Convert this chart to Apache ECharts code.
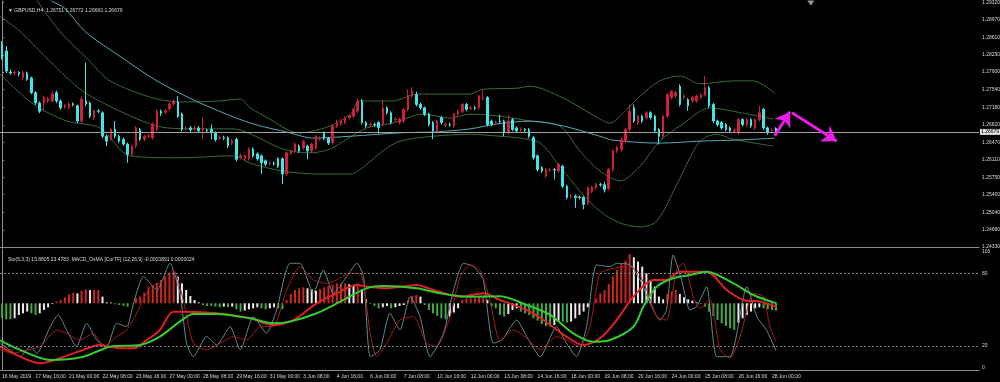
<!DOCTYPE html>
<html><head><meta charset="utf-8">
<script src="https://cdn.jsdelivr.net/npm/echarts@6/dist/echarts.min.js"></script>
<style>html,body{margin:0;padding:0;background:#000}#c{width:1000px;height:382px}</style>
</head><body><div id="c"></div>
<script>
// ---------- DATA ----------
const timeLabels = ["16 May 2019","17 May 16:00","21 May 00:00","22 May 08:00","23 May 16:00","27 May 00:00","28 May 08:00","29 May 16:00","31 May 00:00","3 Jun 08:00","4 Jun 16:00","6 Jun 00:00","7 Jun 08:00","10 Jun 16:00","12 Jun 00:00","13 Jun 08:00","14 Jun 16:00","18 Jun 00:00","19 Jun 08:00","20 Jun 16:00","24 Jun 00:00","25 Jun 08:00","26 Jun 16:00","28 Jun 00:00"];
const barsPerLabel = 8;
const priceTicks = [1.24330,1.24680,1.25040,1.25400,1.25750,1.26110,1.26470,1.26820,1.27180,1.27540,1.27900,1.28250,1.28610,1.28970,1.29320];
const stochTicks = [0,20,80,100];
const lastPrice = 1.26679;
const shiftMarkerBar = 193.3;
const titleText = "\u25BC GBPUSD,H4  1.26751 1.26772 1.26663 1.26679";
const subTitleText = "Sto(5,3,3) 15.8805 23.4783  MACD_OsMA [CurTF] (12,26,9) -0.0003891 0.0000024";

// candles: [open, close, low, high]
const candles = [
[1.2847,1.2819,1.2815,1.2853],[1.2833,1.2792,1.2788,1.2843],[1.2790,1.2788,1.2784,1.2795],[1.2788,1.2789,1.2783,1.2793],
[1.2789,1.2786,1.2781,1.2792],[1.2778,1.2789,1.2774,1.2793],[1.2788,1.2775,1.2772,1.2791],[1.2778,1.2748,1.2745,1.2781],
[1.2748,1.2727,1.2723,1.2751],[1.2727,1.2710,1.2706,1.2730],[1.2727,1.2738,1.2710,1.2742],[1.2731,1.2735,1.2727,1.2739],
[1.2731,1.2745,1.2728,1.2751],[1.2748,1.2731,1.2727,1.2752],[1.2731,1.2717,1.2713,1.2734],[1.2719,1.2721,1.2715,1.2725],
[1.2717,1.2725,1.2713,1.2729],[1.2725,1.2724,1.2720,1.2728],[1.2721,1.2690,1.2686,1.2724],[1.2690,1.2735,1.2686,1.2740],
[1.2731,1.2725,1.2720,1.2809],[1.2727,1.2700,1.2696,1.2730],[1.2697,1.2711,1.2693,1.2714],[1.2711,1.2710,1.2706,1.2714],
[1.2707,1.2659,1.2655,1.2710],[1.2659,1.2649,1.2639,1.2662],[1.2653,1.2673,1.2649,1.2676],[1.2673,1.2659,1.2655,1.2690],
[1.2659,1.2649,1.2645,1.2662],[1.2653,1.2643,1.2639,1.2656],[1.2643,1.2622,1.2605,1.2646],[1.2622,1.2639,1.2618,1.2642],
[1.2639,1.2676,1.2635,1.2680],[1.2673,1.2653,1.2649,1.2676],[1.2653,1.2659,1.2649,1.2662],[1.2659,1.2660,1.2655,1.2664],
[1.2656,1.2684,1.2652,1.2687],[1.2673,1.2710,1.2669,1.2714],[1.2710,1.2706,1.2700,1.2714],[1.2708,1.2711,1.2704,1.2715],
[1.2715,1.2725,1.2711,1.2728],[1.2725,1.2731,1.2721,1.2734],[1.2729,1.2700,1.2696,1.2741],[1.2704,1.2673,1.2669,1.2707],
[1.2675,1.2676,1.2671,1.2680],[1.2676,1.2672,1.2668,1.2680],[1.2674,1.2676,1.2670,1.2680],[1.2676,1.2670,1.2666,1.2680],
[1.2672,1.2676,1.2653,1.2697],[1.2671,1.2670,1.2666,1.2674],[1.2673,1.2666,1.2653,1.2683],[1.2666,1.2652,1.2648,1.2669],
[1.2655,1.2656,1.2651,1.2660],[1.2656,1.2655,1.2651,1.2660],[1.2656,1.2639,1.2635,1.2659],[1.2645,1.2650,1.2641,1.2653],
[1.2653,1.2612,1.2608,1.2656],[1.2616,1.2619,1.2612,1.2623],[1.2613,1.2619,1.2609,1.2622],[1.2613,1.2633,1.2609,1.2636],
[1.2633,1.2619,1.2615,1.2636],[1.2623,1.2613,1.2609,1.2626],[1.2619,1.2605,1.2582,1.2622],[1.2609,1.2602,1.2598,1.2612],
[1.2603,1.2604,1.2599,1.2608],[1.2604,1.2603,1.2599,1.2608],[1.2613,1.2598,1.2594,1.2616],[1.2613,1.2582,1.2561,1.2616],
[1.2582,1.2625,1.2578,1.2628],[1.2625,1.2629,1.2621,1.2632],[1.2629,1.2643,1.2625,1.2646],[1.2639,1.2629,1.2625,1.2642],
[1.2635,1.2649,1.2631,1.2652],[1.2639,1.2629,1.2612,1.2642],[1.2629,1.2643,1.2625,1.2646],[1.2635,1.2659,1.2631,1.2662],
[1.2654,1.2655,1.2650,1.2659],[1.2666,1.2655,1.2651,1.2669],[1.2655,1.2645,1.2641,1.2658],[1.2646,1.2680,1.2642,1.2683],
[1.2680,1.2687,1.2676,1.2693],[1.2684,1.2690,1.2680,1.2694],[1.2687,1.2697,1.2683,1.2700],[1.2697,1.2701,1.2693,1.2704],
[1.2700,1.2714,1.2696,1.2717],[1.2710,1.2731,1.2706,1.2737],[1.2731,1.2687,1.2683,1.2735],[1.2687,1.2680,1.2676,1.2690],
[1.2682,1.2683,1.2678,1.2687],[1.2683,1.2682,1.2678,1.2687],[1.2687,1.2677,1.2664,1.2690],[1.2683,1.2717,1.2679,1.2733],
[1.2717,1.2707,1.2703,1.2720],[1.2707,1.2687,1.2683,1.2710],[1.2693,1.2694,1.2689,1.2698],[1.2687,1.2694,1.2683,1.2697],
[1.2690,1.2714,1.2686,1.2717],[1.2714,1.2741,1.2710,1.2755],[1.2741,1.2751,1.2737,1.2759],[1.2744,1.2724,1.2720,1.2750],
[1.2724,1.2717,1.2713,1.2728],[1.2717,1.2704,1.2700,1.2720],[1.2704,1.2683,1.2679,1.2707],[1.2687,1.2670,1.2653,1.2690],
[1.2670,1.2690,1.2666,1.2693],[1.2697,1.2687,1.2683,1.2700],[1.2682,1.2683,1.2678,1.2687],[1.2683,1.2682,1.2678,1.2687],
[1.2680,1.2704,1.2676,1.2707],[1.2704,1.2710,1.2700,1.2714],[1.2710,1.2724,1.2706,1.2727],[1.2724,1.2714,1.2710,1.2727],
[1.2716,1.2717,1.2712,1.2721],[1.2717,1.2716,1.2712,1.2721],[1.2717,1.2741,1.2713,1.2744],[1.2737,1.2738,1.2733,1.2754],
[1.2738,1.2683,1.2679,1.2741],[1.2690,1.2683,1.2679,1.2693],[1.2686,1.2687,1.2682,1.2691],[1.2690,1.2689,1.2685,1.2703],
[1.2690,1.2666,1.2659,1.2693],[1.2666,1.2690,1.2662,1.2703],[1.2693,1.2673,1.2669,1.2696],[1.2676,1.2670,1.2666,1.2679],
[1.2672,1.2673,1.2668,1.2677],[1.2673,1.2671,1.2667,1.2675],[1.2673,1.2659,1.2655,1.2676],[1.2656,1.2615,1.2611,1.2659],
[1.2619,1.2591,1.2587,1.2622],[1.2595,1.2588,1.2584,1.2598],[1.2578,1.2591,1.2574,1.2594],[1.2590,1.2591,1.2586,1.2595],
[1.2591,1.2590,1.2571,1.2594],[1.2588,1.2602,1.2584,1.2605],[1.2598,1.2557,1.2553,1.2601],[1.2557,1.2534,1.2530,1.2560],
[1.2536,1.2537,1.2532,1.2541],[1.2537,1.2534,1.2513,1.2540],[1.2535,1.2534,1.2530,1.2538],[1.2534,1.2520,1.2510,1.2537],
[1.2523,1.2554,1.2519,1.2557],[1.2547,1.2555,1.2543,1.2558],[1.2554,1.2561,1.2550,1.2564],[1.2561,1.2560,1.2556,1.2564],
[1.2560,1.2550,1.2544,1.2566],[1.2552,1.2591,1.2548,1.2594],[1.2591,1.2629,1.2587,1.2632],[1.2629,1.2636,1.2625,1.2640],
[1.2632,1.2653,1.2628,1.2656],[1.2649,1.2673,1.2645,1.2676],[1.2673,1.2710,1.2669,1.2724],[1.2717,1.2690,1.2686,1.2724],
[1.2686,1.2700,1.2682,1.2703],[1.2700,1.2690,1.2686,1.2703],[1.2697,1.2707,1.2693,1.2710],[1.2707,1.2697,1.2693,1.2710],
[1.2700,1.2670,1.2666,1.2703],[1.2673,1.2659,1.2642,1.2676],[1.2659,1.2700,1.2655,1.2703],[1.2700,1.2744,1.2696,1.2747],
[1.2738,1.2751,1.2734,1.2754],[1.2741,1.2748,1.2737,1.2752],[1.2761,1.2724,1.2720,1.2765],[1.2738,1.2741,1.2734,1.2745],
[1.2734,1.2721,1.2711,1.2737],[1.2731,1.2738,1.2727,1.2741],[1.2731,1.2741,1.2727,1.2744],[1.2738,1.2744,1.2734,1.2747],
[1.2744,1.2758,1.2740,1.2782],[1.2758,1.2721,1.2717,1.2762],[1.2724,1.2690,1.2686,1.2727],[1.2690,1.2683,1.2679,1.2693],
[1.2687,1.2676,1.2672,1.2690],[1.2683,1.2673,1.2669,1.2686],[1.2676,1.2670,1.2666,1.2679],[1.2670,1.2671,1.2666,1.2675],
[1.2666,1.2693,1.2662,1.2696],[1.2693,1.2683,1.2679,1.2696],[1.2683,1.2693,1.2679,1.2696],[1.2693,1.2680,1.2676,1.2696],
[1.2676,1.2693,1.2672,1.2696],[1.2693,1.2707,1.2689,1.2721],[1.2714,1.2676,1.2672,1.2717],[1.2676,1.2666,1.2662,1.2679],
[1.2670,1.2671,1.2666,1.2675],[1.26751,1.26679,1.26663,1.26772]
];

// indicator lines read at sampled bars: [barIndex, value]
const maLine = [[9.1,1.2955],[11.9,1.2935],[15.0,1.2920],[19.8,1.2873],[28.2,1.2822],[37.0,1.2772],[47.3,1.2727],[59.3,1.2686],[68.8,1.2666],[74.3,1.2655],[83.2,1.2659],[95.1,1.2666],[103.9,1.2668],[111.8,1.2674],[118.3,1.2684],[126.2,1.2690],[134.1,1.2680],[142.9,1.2659],[146.0,1.2651],[157.2,1.2645],[166.8,1.2649],[174.7,1.2651],[184.7,1.2655]];
const bbUpper = [[-0.5,1.3037],[6.7,1.2955],[13.8,1.2873],[20.3,1.2818],[25.8,1.2772],[37.0,1.2735],[44.2,1.2729],[52.1,1.2731],[56.9,1.2735],[59.3,1.2717],[64.0,1.2694],[68.8,1.2670],[71.2,1.2666],[78.4,1.2680],[83.2,1.2704],[85.5,1.2731],[93.4,1.2731],[99.2,1.2745],[111.8,1.2745],[115.0,1.2755],[123.1,1.2757],[126.2,1.2761],[134.1,1.2737],[141.7,1.2700],[145.3,1.2686],[148.9,1.2710],[152.5,1.2741],[157.2,1.2772],[162.0,1.2782],[166.8,1.2766],[174.7,1.2772],[179.5,1.2772],[184.7,1.2747]];
const bbMiddle = [[-0.5,1.2904],[4.3,1.2873],[11.4,1.2812],[19.3,1.2751],[28.2,1.2710],[35.4,1.2684],[39.4,1.2676],[47.3,1.2674],[55.2,1.2674],[59.3,1.2664],[67.1,1.2633],[73.6,1.2625],[78.4,1.2633],[82.4,1.2653],[87.2,1.2676],[93.4,1.2686],[100.6,1.2704],[107.1,1.2696],[111.8,1.2704],[119.0,1.2700],[126.2,1.2690],[133.3,1.2680],[138.1,1.2629],[142.9,1.2588],[147.7,1.2568],[152.5,1.2598],[157.2,1.2649],[162.7,1.2684],[169.2,1.2717],[174.7,1.2710],[184.3,1.2694]];
const bbLower = [[-0.5,1.2786],[7.4,1.2725],[15.5,1.2690],[23.4,1.2676],[30.6,1.2619],[42.5,1.2615],[55.2,1.2619],[59.3,1.2604],[67.1,1.2588],[75.3,1.2582],[83.2,1.2582],[87.2,1.2602],[91.0,1.2629],[95.1,1.2649],[103.0,1.2659],[111.8,1.2663],[119.0,1.2659],[123.8,1.2655],[128.6,1.2645],[133.3,1.2598],[138.1,1.2547],[142.9,1.2506],[147.7,1.2482],[152.5,1.2474],[156.5,1.2486],[161.3,1.2561],[166.8,1.2649],[170.9,1.2663],[174.7,1.2653],[184.3,1.2639]];

// OsMA histogram (units of 1e-4), one per bar
const osma = [
-1.5,-1.6,-1.6,-1.5,-1.17,-1.0,-0.83,-1.0,-1.17,-1.0,
-0.67,-0.4,-0.07,0.17,0.33,0.6,0.9,1.07,1.0,1.27,
1.4,1.33,1.33,1.33,0.67,0.1,0.07,-0.1,-0.17,-0.27,
-0.33,0.03,0.5,0.67,1.07,1.6,1.83,2.07,2.33,2.67,
3.0,3.17,2.67,2.0,1.33,0.73,0.33,0.1,-0.17,-0.27,
-0.27,-0.33,-0.4,-0.33,-0.4,-0.33,-0.6,-0.83,-0.73,-0.6,
-0.5,-0.4,-0.5,-0.6,-0.5,-0.4,-0.5,-0.6,0.33,0.93,
1.33,1.5,1.6,1.5,1.4,1.27,1.4,1.6,1.73,1.87,
2.0,2.0,2.0,1.9,1.83,2.0,1.4,0.4,-0.07,-0.27,
-0.5,-0.4,-0.27,-0.5,-0.4,-0.27,-0.17,0.33,0.73,0.83,
0.67,-0.17,-0.67,-1.0,-1.27,-1.5,-1.6,-1.33,-0.93,-0.5,
0.33,0.5,0.5,0.5,0.67,0.73,0.33,-0.33,-0.5,-1.17,
-1.33,-1.07,-0.67,-0.5,-0.83,-1.0,-1.17,-1.5,-1.73,-2.07,
-2.27,-2.33,-2.17,-1.83,-1.83,-1.93,-1.83,-1.5,-1.17,-0.83,
-0.4,0.05,0.5,1.0,1.33,1.93,2.67,3.33,3.93,4.27,
4.93,4.6,4.17,3.67,3.0,2.33,1.67,0.67,0.4,0.93,
1.17,1.33,0.93,0.6,0.4,0.27,0.1,-0.07,-0.33,-0.83,
-1.27,-1.67,-2.0,-2.27,-2.5,-2.67,-1.93,-1.5,-1.17,-0.83,
-0.5,-0.4,-0.5,-0.6,-0.67,-0.73
];
const stochMain = [[-0.5,22],[1.9,16.6],[4.3,11],[6.7,19.3],[8.3,13.8],[11.5,35.8],[13.4,45.5],[15.4,33.1],[17.8,19.3],[20.2,38.6],[22.6,24.8],[25,19.3],[27.4,38.6],[29.8,35.8],[31.4,55.1],[33.8,77.2],[37,66.1],[40.1,88.2],[42.5,63.4],[44.1,22.1],[45.7,11],[48.9,27.6],[51.3,20.7],[54.5,35.8],[56.9,16.6],[60.1,44.1],[63.2,30.3],[65.6,49.6],[68.8,88.2],[71.2,88.2],[74.4,63.4],[76.8,82.7],[79.2,63.4],[82.4,77.2],[84.8,88.2],[86.4,77.2],[88,11],[90.3,16.6],[92.7,46.9],[95.1,33.1],[97.5,60.6],[99.9,44.1],[102.3,11],[105.5,30.3],[107.9,66.1],[110.3,88.2],[112.7,85.4],[115,74.4],[117.4,22.1],[119.5,25],[123,41.3],[125.4,27.6],[128.6,11],[132.5,35.8],[134.9,22.1],[137.3,11],[139.7,35.8],[142.1,86.8],[145.3,85.4],[146.9,88.2],[150.1,86.8],[152.5,74.4],[154.9,55.1],[157.2,41.3],[158.8,49.6],[160.4,95.1],[162.4,74.4],[164.4,49.6],[166,52.4],[168.4,68.9],[170.8,11],[174,11],[178,68.9],[180.4,44.1],[182.7,33.1],[185,15.9]];
const stochSignal = [[-0.5,16.6],[2.7,13.8],[5.9,16.6],[9.1,19.3],[13,33.1],[15.4,30.3],[18.6,24.8],[21.8,30.3],[24.2,19.3],[27.4,27.6],[29.8,33.1],[32.2,46.9],[35.4,68.9],[37.7,71.6],[40.9,82.7],[43.3,57.9],[45.7,22.1],[48.9,16.6],[52.1,22.1],[55.3,27.6],[58.5,24.8],[61.7,35.8],[64.8,35.8],[68,66.1],[71.2,85.4],[74.4,74.4],[77.6,71.6],[80,74.4],[83.2,79.9],[85.6,79.9],[88,30.3],[89.5,11],[91.9,22.1],[95.1,41.3],[98.3,44.1],[101.5,22.1],[103.9,19.3],[107.1,44.1],[109.5,77.2],[111.9,86.8],[114.2,82.7],[116.6,57.9],[119,24],[122.2,33.1],[125.4,26.2],[128.6,16.6],[132.5,27.6],[134.9,24.8],[138.1,19.3],[140.5,35.8],[142.9,79.9],[146.1,84],[149.3,85.4],[151.7,82.7],[154.1,66.1],[156.5,44.1],[158.8,41.3],[161.2,82.7],[162.8,88.2],[165.2,60.6],[166.8,51],[169.2,57.9],[171.6,16.6],[174,9.7],[176.4,27.6],[179.6,63.4],[182,60.6],[183.5,35.8],[185,23.5]];
const macdRed = [[-0.5,19.5],[4.3,11],[9.1,5.5],[13.8,9.7],[19.4,16.6],[23.4,20.7],[28.2,17.9],[31.4,17.9],[34.6,24.8],[37.7,33.1],[40.9,48.2],[44.1,48.2],[51.3,46.9],[59.3,42.7],[64.8,37.2],[69.6,41.3],[75.2,55.1],[80,63.4],[84.8,70.3],[87.1,68.9],[91.9,67.5],[99.1,70.3],[103.1,66.1],[109.5,60.6],[115,63.4],[119,57.9],[125.4,49.6],[129.4,41.3],[134.9,27.6],[138.9,20.7],[142.9,26.2],[146.9,41.3],[150.9,60.6],[155.7,74.4],[158.8,74.4],[162,81.3],[168.4,81.3],[173.2,66.1],[177.2,57.9],[181.2,56.5],[185.1,52.4]];
const macdGreen = [[-0.5,24.5],[4.3,16.6],[11.5,8.3],[19.4,11],[25.8,19.3],[33,20.7],[37.7,27.6],[42.5,40],[45.7,46.3],[51.3,46.3],[59.3,42.7],[64.8,38.6],[68.8,40],[75.2,46.9],[81.6,57.9],[87.1,67.5],[91.1,69.4],[99.1,67.5],[104.7,63.4],[111.1,60.6],[119,61],[125.4,53.7],[131,45.5],[136.5,30.3],[141.3,23.4],[145.3,24.8],[150.9,35.8],[153.3,52.4],[156.5,68.9],[160.4,75.8],[164.4,78.5],[168.4,81.3],[174.8,71.6],[179.6,62],[185.1,55.1]];
// forecast arrows: [[fromBar, fromPrice], [toBar, toPrice]]
const arrows = [[[184.7,1.2660],[188.3,1.2709]],[[188.8,1.2707],[199.5,1.2649]]];

// ---------- CHART ----------
const N_SLOTS = 234;
const slots = Array.from({length: N_SLOTS}, (_, i) => String(i));
const FONT = "'Liberation Sans', Arial, sans-serif";
const FS = 5;
const AX = '#8c8c8c', TXT = '#d8d8d8';

function line(name, data, color, width, xi, yi, smooth, extra) {
  return Object.assign({type:'line', name, data, xAxisIndex:xi, yAxisIndex:yi, symbol:'none', smooth:smooth,
    lineStyle:{color, width}, silent:true, z:3}, extra || {});
}

const chart = echarts.init(document.getElementById('c'));
chart.setOption({
  backgroundColor:'#000',
  animation:false,
  title:[
    {text:titleText, left:3, top:3, textStyle:{color:TXT, fontSize:FS, fontWeight:'normal', fontFamily:FONT}},
    {text:subTitleText, left:3, top:252, textStyle:{color:TXT, fontSize:FS, fontWeight:'normal', fontFamily:FONT}}
  ],
  grid:[
    {left:0, top:1, width:979, height:246, containLabel:false, outerBoundsMode:'none'},
    {left:0, top:249, width:979, height:121, containLabel:false, outerBoundsMode:'none'}
  ],
  xAxis:[
    {type:'category', gridIndex:0, data:slots, boundaryGap:true, axisLine:{lineStyle:{color:AX}}, axisTick:{show:false}, axisLabel:{show:false}, splitLine:{show:false}},
    {type:'value', gridIndex:0, min:-0.5, max:N_SLOTS-0.5, show:false},
    {type:'category', gridIndex:1, data:slots, boundaryGap:true, axisLine:{lineStyle:{color:AX}},
      axisTick:{interval:barsPerLabel-1, alignWithLabel:true, length:3, lineStyle:{color:AX}},
      axisLabel:{interval:barsPerLabel-1, showMinLabel:true, hideOverlap:false,
        formatter:(v, i) => (i % barsPerLabel === 0 ? (timeLabels[i / barsPerLabel] || '') : ''),
        align:'left', color:TXT, fontSize:FS, fontFamily:FONT, margin:4}, splitLine:{show:false}},
    {type:'value', gridIndex:1, min:-0.5, max:N_SLOTS-0.5, show:false}
  ],
  yAxis:[
    {type:'value', gridIndex:0, position:'right', min:1.2433, max:1.2935, splitLine:{show:false},
      axisLine:{show:true, lineStyle:{color:AX}},
      axisTick:{show:true, length:2, customValues:priceTicks, lineStyle:{color:AX}},
      axisLabel:{customValues:priceTicks, formatter:v => v.toFixed(5), color:TXT, fontSize:FS, fontFamily:FONT, margin:3}},
    {type:'value', gridIndex:1, position:'right', min:0, max:100, splitLine:{show:false},
      axisLine:{show:true, lineStyle:{color:AX}},
      axisTick:{show:false},
      axisLabel:{customValues:stochTicks, color:TXT, fontSize:FS, fontFamily:FONT, margin:3, verticalAlignMinLabel:'bottom', verticalAlignMaxLabel:'top'}},
    {type:'value', gridIndex:1, min:-6.67, max:5.43, show:false}
  ],
  series:[
    line('BB upper', bbUpper, '#3a6a3a', 1, 1, 0, 0.3),
    line('BB middle', bbMiddle, '#3a6a3a', 1, 1, 0, 0.3),
    line('BB lower', bbLower, '#3a6a3a', 1, 1, 0, 0.3),
    line('MA', maLine, '#55a9b3', 1, 1, 0, 0.3),
    {type:'line', name:'Bid', xAxisIndex:1, yAxisIndex:0, data:[], symbol:'none', silent:true, z:2,
      markLine:{silent:true, symbol:['none','none'],
        label:{show:true, position:'end', formatter:lastPrice.toFixed(5), backgroundColor:'#e2e2e2', color:'#000', fontSize:FS, fontFamily:FONT, padding:[1,1,0,1], distance:1},
        lineStyle:{color:'#a0a0a0', width:1, type:'solid'},
        data:[[{coord:[-0.5, lastPrice]}, {coord:[N_SLOTS-0.5, lastPrice]}]]},
      markPoint:{silent:true, symbol:'triangle', symbolRotate:180, symbolSize:[7,5], symbolOffset:[0,2],
        itemStyle:{color:'#9a9a9a'}, label:{show:false},
        data:[{coord:[shiftMarkerBar, 1.2935]}]}},
    {type:'line', name:'Forecast', xAxisIndex:1, yAxisIndex:0, data:[], symbol:'none', silent:true, z:6,
      markLine:{silent:true, symbol:['none','arrow'], symbolSize:14, label:{show:false},
        lineStyle:{color:'#e61ee6', width:3, type:'solid'},
        data: arrows.map(a => [{coord:a[0]}, {coord:a[1]}])}},
    {type:'candlestick', name:'GBPUSD', xAxisIndex:0, yAxisIndex:0, data:candles, barWidth:2, z:4,
      itemStyle:{color:'#d01f3c', color0:'#3fe6e6', borderColor:'#d01f3c', borderColor0:'#3fe6e6', borderWidth:1}},
    {type:'bar', name:'OsMA', xAxisIndex:2, yAxisIndex:2, data:osma, barWidth:2, silent:true,
      itemStyle:{color: p => {
        const i = p.dataIndex, v = osma[i], prev = i > 0 ? osma[i-1] : v;
        if (v >= 0) return v >= prev ? '#cf2626' : '#f0eaea';
        return v <= prev ? '#47a847' : '#f0eaea';
      }}},
    line('Sto main', stochMain, '#5d8d8d', 1, 3, 1, 0.2, {
      markLine:{silent:true, symbol:['none','none'], label:{show:false},
        lineStyle:{color:'#808080', width:1, type:[2,2]}, data:[{yAxis:80},{yAxis:20}]}
    }),
    line('Sto signal', stochSignal, '#a81c1c', 1, 3, 1, 0.2),
    line('MACD main', macdRed, '#e02222', 2, 3, 1, 0.3),
    line('MACD signal', macdGreen, '#33cc33', 2, 3, 1, 0.3)
  ]
});
</script></body></html>
